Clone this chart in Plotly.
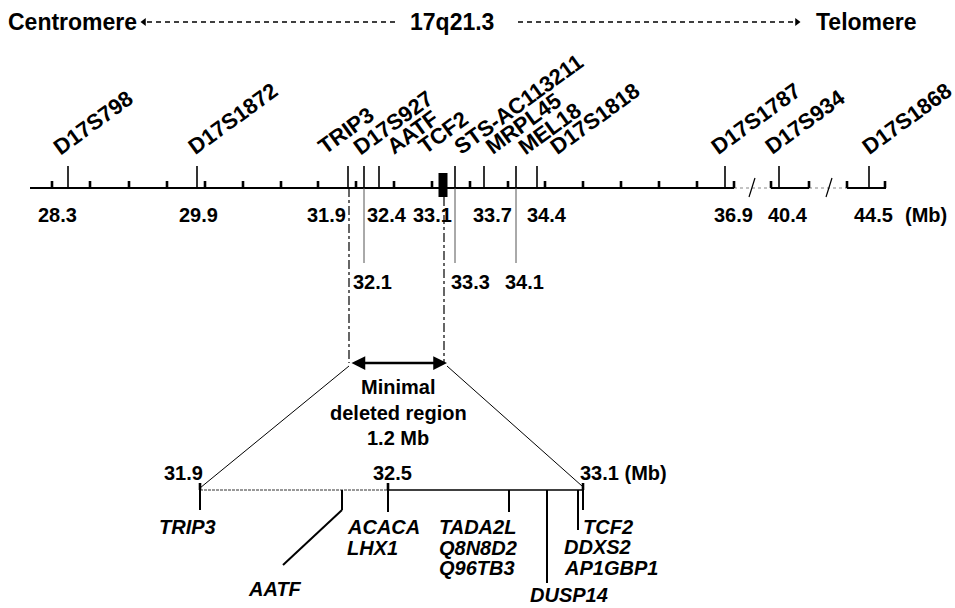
import plotly.graph_objects as go

# ---------------- data ----------------
header_texts = ["Centromere", "17q21.3", "Telomere"]

marker_names = ["D17S798", "D17S1872", "TRIP3", "D17S927", "AATF", "TCF2",
                "STS-AC113211", "MRPL45", "MEL18", "D17S1818", "D17S1787",
                "D17S934", "D17S1868"]
marker_track = [68, 197, 348, 364, 379, 443, 455, 484, 516, 537, 725, 779, 869]
minor_track = [52, 90, 129, 167, 205, 243, 281, 318, 356, 394, 432, 470, 508,
               545, 583, 621, 659, 697, 734, 771, 809, 847, 885]
scale_labels = ["28.3", "29.9", "31.9", "32.4", "33.1", "33.7", "34.4",
                "36.9", "40.4", "44.5"]
scale_track = [57, 198, 326, 387, 432, 492, 547, 733, 788, 873]
inner_labels = ["32.1", "33.3", "34.1"]
inner_track = [364, 455, 516]

region_text = ["Minimal", "deleted region", "1.2 Mb"]
detail_labels = ["31.9", "32.5", "33.1 (Mb)"]
detail_track = [200, 388, 583]
gene_groups = [["TRIP3"], ["AATF"], ["ACACA", "LHX1"],
               ["TADA2L", "Q8N8D2", "Q96TB3"], ["DUSP14"],
               ["DDXS2", "AP1GBP1"], ["TCF2"]]
gene_track = [200, 342, 388, 509, 547, 578, 583]

# ---------------- layout helpers ----------------
FONT = "Liberation Sans, Arial, sans-serif"
AX_Y = 188          # main map line
LOW_Y = 490         # detail map line
fig = go.Figure()
ann = []


def line(xs, ys, color="black", width=2, dash="solid"):
    fig.add_trace(go.Scatter(x=xs, y=ys, mode="lines", hoverinfo="skip",
                             line=dict(color=color, width=width, dash=dash),
                             showlegend=False))


def text(x, y, t, size=20, xanchor="center", yanchor="middle", italic=False,
         angle=0):
    ann.append(dict(x=x, y=y, xref="x", yref="y", text=t, showarrow=False,
                    xanchor=xanchor, yanchor=yanchor, textangle=angle,
                    font=dict(family=FONT, size=size, color="black",
                              weight="bold",
                              style="italic" if italic else "normal")))


# ---------------- header ----------------
text(72, 22, header_texts[0], size=23)
text(452, 22, header_texts[1], size=23)
text(866, 22, header_texts[2], size=23)
line([147, 397], [22, 22], width=1.5, dash="5px,4px")
line([518, 794], [22, 22], width=1.5, dash="5px,4px")
fig.add_trace(go.Scatter(x=[144, 797], y=[22, 22], mode="markers",
                         hoverinfo="skip", showlegend=False,
                         marker=dict(symbol=["triangle-left", "triangle-right"],
                                     size=7, color="black")))

# ---------------- main map ----------------
line([30, 734], [AX_Y, AX_Y], width=2)
line([734, 771], [AX_Y, AX_Y], color="#888", width=1.2, dash="dot")
line([771, 809], [AX_Y, AX_Y], width=2)
line([809, 847], [AX_Y, AX_Y], color="#888", width=1.2, dash="dot")
line([847, 886], [AX_Y, AX_Y], width=2)
# break slashes
line([749, 755], [197, 178], width=1.2)
line([826, 832], [197, 178], width=1.2)

# minor ticks
xs, ys = [], []
for m in minor_track:
    xs += [m, m, None]
    ys += [AX_Y, AX_Y - 7, None]
line(xs, ys, width=2.6)

# marker ticks
xs, ys = [], []
for name, m in zip(marker_names, marker_track):
    if name == "TCF2":
        continue
    xs += [m, m, None]
    ys += [AX_Y, AX_Y - 22, None]
line(xs, ys, width=1.6)

# TCF2 block
tcf = marker_track[marker_names.index("TCF2")]
fig.add_shape(type="rect", xref="x", yref="y", x0=tcf - 4.5, x1=tcf + 4.5,
              y0=173, y1=197, fillcolor="black", line=dict(width=0))

# marker labels (rotated)
label_start = [55, 190, 320, 355, 388, 420, 455, 487, 520, 552, 713, 767, 864]
for name, sx in zip(marker_names, label_start):
    text(sx - 9, 162, name, size=22, xanchor="left", yanchor="bottom",
         angle=-36)

# scale labels
for lab, x in zip(scale_labels, scale_track):
    text(x, 215, lab, size=20)
text(926, 215, "(Mb)", size=20)

# thin drop lines with inner positions
inner_text_x = [372, 470, 524]
for lab, m, tx in zip(inner_labels, inner_track, inner_text_x):
    line([m, m], [AX_Y, 263], color="#555", width=1)
    text(tx, 282, lab, size=20)

# dash-dot region boundaries
left_b = marker_track[marker_names.index("TRIP3")] + 1
right_b = tcf + 1
line([left_b, left_b], [AX_Y, 363], width=1.2, dash="dashdot")
line([right_b, right_b], [197, 363], width=1.2, dash="dashdot")

# double arrow
ann.append(dict(x=right_b + 3, y=363, ax=left_b + 1, ay=363, xref="x", yref="y",
                axref="x", ayref="y", showarrow=True, arrowhead=2,
                arrowside="end+start", arrowsize=1.1, arrowwidth=2.5,
                arrowcolor="black", text=""))

text(398, 387, region_text[0], size=20)
text(398, 413, region_text[1], size=20)
text(398, 438, region_text[2], size=20)

# expansion lines
line([left_b, 200], [366, LOW_Y - 2], width=1)
line([right_b + 3, 582], [366, LOW_Y - 4], width=1)

# ---------------- detail map ----------------
line([200, 388], [LOW_Y, LOW_Y], color="#777", width=1.6, dash="3px,1px")
line([388, 584], [LOW_Y, LOW_Y], width=1.6)
xs, ys = [], []
for d in detail_track:
    xs += [d, d, None]
    ys += [LOW_Y, LOW_Y - 7, None]
line(xs, ys, width=2.6)
text(183, 473, detail_labels[0], size=20)
text(392, 473, detail_labels[1], size=20)
text(578, 473, detail_labels[2], size=20, xanchor="left")

# gene drop lines
gene_ends = [510, 510, 512, 512, 583, 530, 510]
xs, ys = [], []
for g, e in zip(gene_track, gene_ends):
    xs += [g, g, None]
    ys += [LOW_Y, e, None]
line(xs, ys, width=2)
# AATF leader
line([gene_track[1], 283], [510, 565], width=2)

# gene labels
text(187, 527, gene_groups[0][0], size=20, italic=True)
text(275, 589, gene_groups[1][0], size=20, italic=True)
for i, g in enumerate(gene_groups[2]):
    text(345, 527 + 20.5 * i, g, size=20, italic=True, xanchor="left")
for i, g in enumerate(gene_groups[3]):
    text(437, 527 + 20.5 * i, g, size=20, italic=True, xanchor="left")
text(569, 595, gene_groups[4][0], size=20, italic=True)
for i, g in enumerate(gene_groups[5]):
    text(562, 547 + 20.5 * i, g, size=20, italic=True, xanchor="left")
text(581, 527, gene_groups[6][0], size=20, italic=True, xanchor="left")

fig.update_layout(
    width=955, height=608, margin=dict(l=0, r=0, t=0, b=0),
    plot_bgcolor="white", paper_bgcolor="white",
    xaxis=dict(range=[0, 955], visible=False, fixedrange=True),
    yaxis=dict(range=[608, 0], visible=False, fixedrange=True),
    annotations=ann, showlegend=False,
)
fig.write_html(
    "out.html",
    config={"displayModeBar": False, "staticPlot": True},
    post_script="document.body.style.margin='0px';"
                "document.body.style.overflow='hidden';",
)
